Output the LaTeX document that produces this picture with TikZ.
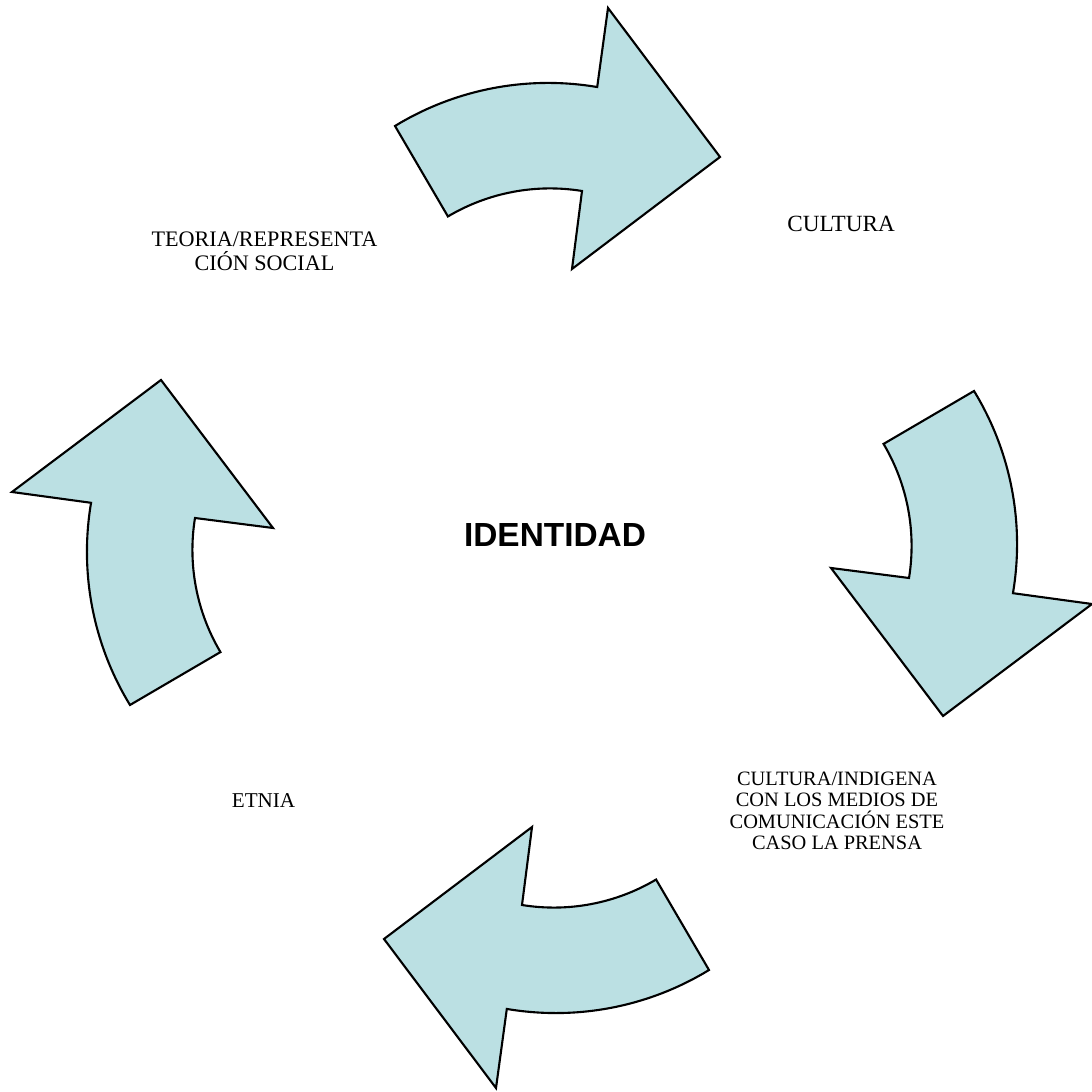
\documentclass[tikz,border=0pt]{standalone}
\usepackage{fontspec}
\setmainfont{Liberation Serif}
\newfontfamily\arialfont{Liberation Sans}
\definecolor{celeste}{RGB}{187,224,227}
\begin{document}
\begin{tikzpicture}[x=0.01cm,y=0.01cm,
    flecha/.style={fill=celeste,draw=black,line width=0.6pt,line join=miter},
    rotulo/.style={inner sep=0pt,align=center}]
    \useasboundingbox (-552,-544) rectangle (539,548);
    \foreach \ang in {0,-90,-180,-270}{
        \begin{scope}[rotate=\ang]
            \draw[flecha] (-157,422) arc[start angle=121.4,end angle=80.4,radius=294]
                -- (56,540) -- (168,391) -- (20,279) -- (30,357)
                arc[start angle=80.8,end angle=120.7,radius=200] -- cycle;
        \end{scope}
    }
    \node[rotulo,anchor=base,font=\arialfont\bfseries\fontsize{9.5}{11}\selectfont] (identidad) at (3,1) {IDENTIDAD};
    \node[rotulo,font=\fontsize{6.3}{6.8}\selectfont] (teoria) at (-287.5,296.3) {TEORIA/REPRESENTA\\CIÓN SOCIAL};
    \node[rotulo,anchor=base,font=\fontsize{6.6}{7}\selectfont] (cultura) at (289,316) {CULTURA};
    \node[rotulo,anchor=base,font=\fontsize{6}{7}\selectfont] (etnia) at (-288.5,-259) {ETNIA};
    \node[rotulo,font=\fontsize{5.8}{6.03}\selectfont] (medios) at (285,-262.8) {CULTURA/INDIGENA\\CON LOS MEDIOS DE\\COMUNICACIÓN ESTE\\CASO LA PRENSA};
\end{tikzpicture}
\end{document}
